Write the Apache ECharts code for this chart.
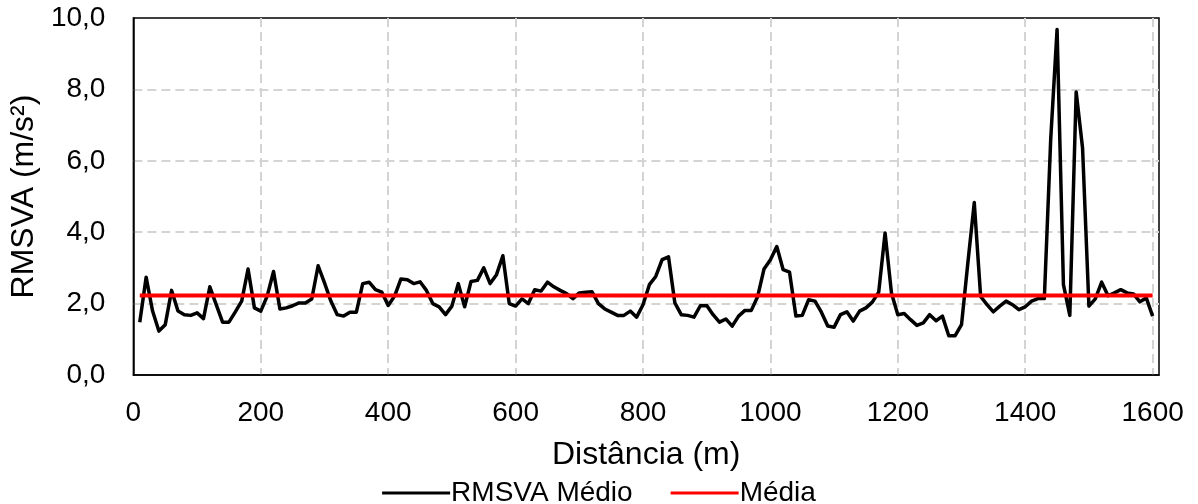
<!DOCTYPE html>
<html>
<head>
<meta charset="utf-8">
<script src="https://cdn.jsdelivr.net/npm/echarts@6/dist/echarts.min.js"></script>
<style>
  html, body { margin: 0; padding: 0; background: #fff; }
  #chart { width: 1198px; height: 504px; }
</style>
</head>
<body>
<div id="chart"></div>
<script>
// Distance along the track (m), one reading every 10 m
const distances = [
  10, 20, 30, 40, 50, 60, 70, 80, 90, 100,
  110, 120, 130, 140, 150, 160, 170, 180, 190, 200,
  210, 220, 230, 240, 250, 260, 270, 280, 290, 300,
  310, 320, 330, 340, 350, 360, 370, 380, 390, 400,
  410, 420, 430, 440, 450, 460, 470, 480, 490, 500,
  510, 520, 530, 540, 550, 560, 570, 580, 590, 600,
  610, 620, 630, 640, 650, 660, 670, 680, 690, 700,
  710, 720, 730, 740, 750, 760, 770, 780, 790, 800,
  810, 820, 830, 840, 850, 860, 870, 880, 890, 900,
  910, 920, 930, 940, 950, 960, 970, 980, 990, 1000,
  1010, 1020, 1030, 1040, 1050, 1060, 1070, 1080, 1090, 1100,
  1110, 1120, 1130, 1140, 1150, 1160, 1170, 1180, 1190, 1200,
  1210, 1220, 1230, 1240, 1250, 1260, 1270, 1280, 1290, 1300,
  1310, 1320, 1330, 1340, 1350, 1360, 1370, 1380, 1390, 1400,
  1410, 1420, 1430, 1440, 1450, 1460, 1470, 1480, 1490, 1500,
  1510, 1520, 1530, 1540, 1550, 1560, 1570, 1580, 1590, 1600
];

// RMSVA médio (m/s²) for each distance
const rmsvaMedio = [
  1.48, 2.74, 1.80, 1.23, 1.41, 2.37, 1.79, 1.69, 1.67, 1.74,
  1.58, 2.47, 1.97, 1.48, 1.48, 1.77, 2.07, 2.97, 1.88, 1.79,
  2.21, 2.90, 1.85, 1.88, 1.94, 2.02, 2.02, 2.13, 3.06, 2.58,
  2.07, 1.69, 1.65, 1.76, 1.76, 2.56, 2.60, 2.39, 2.32, 1.95,
  2.21, 2.69, 2.67, 2.56, 2.61, 2.37, 2.00, 1.91, 1.69, 1.93,
  2.56, 1.91, 2.62, 2.65, 3.00, 2.56, 2.81, 3.34, 2.00, 1.93,
  2.13, 2.00, 2.39, 2.35, 2.60, 2.47, 2.37, 2.28, 2.14, 2.30,
  2.32, 2.33, 2.00, 1.85, 1.76, 1.67, 1.67, 1.79, 1.62, 1.97,
  2.53, 2.76, 3.23, 3.31, 2.02, 1.69, 1.67, 1.62, 1.94, 1.95,
  1.69, 1.48, 1.57, 1.37, 1.65, 1.81, 1.81, 2.20, 2.97, 3.23,
  3.60, 2.95, 2.88, 1.65, 1.67, 2.11, 2.07, 1.76, 1.37, 1.34,
  1.69, 1.77, 1.51, 1.79, 1.88, 2.04, 2.32, 3.98, 2.30, 1.69,
  1.72, 1.55, 1.39, 1.46, 1.69, 1.52, 1.65, 1.10, 1.10, 1.41,
  3.15, 4.83, 2.20, 1.97, 1.77, 1.93, 2.07, 1.97, 1.83, 1.91,
  2.07, 2.14, 2.14, 6.60, 9.68, 2.53, 1.67, 7.93, 6.36, 1.93,
  2.13, 2.60, 2.22, 2.30, 2.39, 2.30, 2.27, 2.05, 2.16, 1.65
];

// Mean value over the whole stretch (m/s²)
const media = 2.23;

// Axis ticks
const xTicks = [0, 200, 400, 600, 800, 1000, 1200, 1400, 1600];
const yTicks = [0, 2, 4, 6, 8, 10];

const FONT = 'Liberation Sans, Arial, sans-serif';
const TICK_FS = 28;
const TITLE_FS = 32;
const LEGEND_FS = 28;

const seriesData = distances.map((d, i) => [d, rmsvaMedio[i]]);
const mediaData = [[distances[0], media], [distances[distances.length - 1], media]];

const gridLine = { show: true, showMinLine: false, showMaxLine: false,
  lineStyle: { color: '#d4d4d4', width: 2, type: [9, 5] } };

const chart = echarts.init(document.getElementById('chart'), null, { renderer: 'canvas' });

chart.setOption({
  animation: false,
  backgroundColor: '#ffffff',
  textStyle: { fontFamily: FONT, color: '#000' },
  grid: {
    left: 132, right: 39, top: 18, bottom: 129,
    show: true, borderColor: '#000', borderWidth: 1.5,
    containLabel: false
  },
  xAxis: {
    type: 'value',
    min: 0, max: 1610, interval: 200,
    name: 'Distância (m)',
    nameLocation: 'middle',
    nameGap: 64,
    nameTextStyle: { fontFamily: FONT, fontSize: TITLE_FS, color: '#000' },
    axisLine: { show: true, lineStyle: { color: '#000', width: 1.5 } },
    axisTick: { show: false },
    axisLabel: {
      fontFamily: FONT, fontSize: TICK_FS, color: '#000', margin: 24,
      showMaxLabel: false,
      formatter: v => (xTicks.indexOf(v) >= 0 ? String(v) : '')
    },
    splitLine: gridLine
  },
  yAxis: {
    type: 'value',
    min: 0, max: 10, interval: 2,
    name: 'RMSVA (m/s²)',
    nameLocation: 'middle',
    nameGap: 91,
    nameTextStyle: { fontFamily: FONT, fontSize: TITLE_FS, color: '#000' },
    axisLine: { show: true, lineStyle: { color: '#000', width: 1.5 } },
    axisTick: { show: false },
    axisLabel: {
      fontFamily: FONT, fontSize: TICK_FS, color: '#000', margin: 28,
      formatter: v => (yTicks.indexOf(v) >= 0 ? v.toFixed(1).replace('.', ',') : '')
    },
    splitLine: gridLine
  },
  legend: {
    top: 474,
    left: 'center',
    itemWidth: 68,
    itemHeight: 3,
    itemGap: 38,
    icon: 'rect',
    textStyle: { fontFamily: FONT, fontSize: LEGEND_FS, color: '#000', padding: [0, 0, 0, -4] },
    data: ['RMSVA Médio', 'Média']
  },
  series: [
    {
      name: 'RMSVA Médio',
      type: 'line',
      data: seriesData,
      showSymbol: false,
      symbol: 'none',
      color: '#000',
      lineStyle: { color: '#000', width: 3.5, join: 'round' },
      z: 2
    },
    {
      name: 'Média',
      type: 'line',
      data: mediaData,
      showSymbol: false,
      symbol: 'none',
      color: '#ff0000',
      lineStyle: { color: '#ff0000', width: 4 },
      z: 3
    }
  ]
});
</script>
</body>
</html>
